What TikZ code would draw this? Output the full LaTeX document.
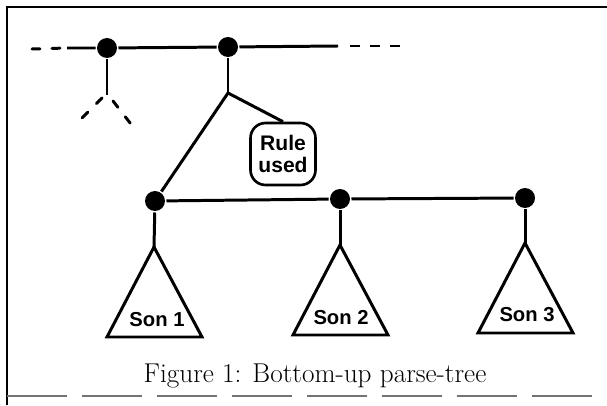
\documentclass[tikz,border=0pt]{standalone}
\usepackage{fontspec}
\newfontfamily\labelfont{Liberation Sans}
\usetikzlibrary{positioning,calc}

\tikzset{
    dot/.style={circle, fill=black, inner sep=0pt, minimum size=0.4cm},
    rulebox/.style={draw, line width=1.5pt, rounded corners=0.3cm, minimum width=1.3cm, minimum height=1.24cm, align=center, font=\labelfont\bfseries\fontsize{12}{14}\selectfont, inner sep=1pt},
    sonlabel/.style={font=\labelfont\bfseries\fontsize{11.5}{13}\selectfont},
    gap/.style={dash pattern=on 0.16cm off 0.24cm, line cap=round}
}

\begin{document}
\begin{tikzpicture}[x=0.02cm, y=-0.02cm, line width=1.7pt]
    \useasboundingbox (0,0) rectangle (607,405);

    % frame
    \draw [line width=1.2pt] (7,405) -- (7,7) -- (607,7);
    \draw [line width=1pt, black!55, dash pattern=on 1.2cm off 0.3cm] (7,396) -- (607,396);

    % upper level
    \node [dot] (ta) at (107,48) {};
    \node [dot] (tb) at (228,47) {};
    \coordinate (lft) at (67,48);
    \coordinate (rgt) at (338,46);
    \draw [gap] (32,49) -- (lft);
    \draw [dash pattern=on 0.2cm off 0.2cm] (rgt) ++(12,0) -- (402,46);
    \draw (lft) -- (ta) -- (tb) -- (rgt);

    \coordinate (ja) at (107,95);
    \coordinate (jb) at (228,93);
    \draw (ta) -- (ja);
    \draw [gap] (ja) ++(-5,3) -- (79,121);
    \draw [gap] (ja) ++(6,6) -- (134,128);
    \draw (tb) -- (jb);

    \node [rulebox] (rule) at (283,154) {Rule\\[-2pt]used};
    \draw (jb) -- (rule.north);

    % lower level
    \node [dot] (s1) at (155,201) {};
    \node [dot] (s2) at (340,199) {};
    \node [dot] (s3) at (525,198) {};
    \draw (jb) -- (s1);
    \draw (s1) -- (s2) -- (s3);

    % subtrees
    \coordinate (t1) at (154,247);
    \coordinate (t2) at (340,245);
    \coordinate (t3) at (525,243);
    \draw (s1) -- (t1);
    \draw (s2) -- (t2);
    \draw (s3) -- (t3);
    \draw (t1) -- ++(-47,90) -- ++(95,0) -- cycle;
    \draw (t2) -- ++(-47,90) -- ++(95,0) -- cycle;
    \draw (t3) -- ++(-47,90) -- ++(95,0) -- cycle;
    \node [sonlabel] (son1) at (157,320) {Son 1};
    \node [sonlabel] (son2) at (341,318) {Son 2};
    \node [sonlabel] (son3) at (527,315) {Son 3};

    \node [font=\fontsize{15.5}{18}\selectfont\addfontfeature{FakeBold=1.2}] (cap) at (315,376) {Figure 1: Bottom-up parse-tree};
\end{tikzpicture}
\end{document}
